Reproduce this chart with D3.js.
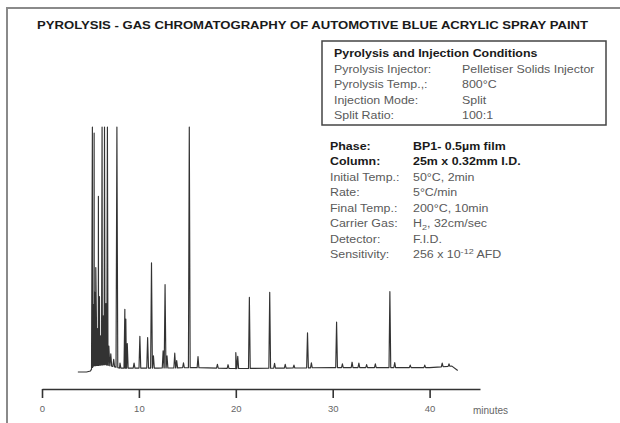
<!DOCTYPE html>
<html><head><meta charset="utf-8">
<script src="https://cdn.jsdelivr.net/npm/d3@7"></script>
<style>
body{margin:0;background:#fff}
svg{display:block}
text{font-family:"Liberation Sans",Arial,Helvetica,sans-serif}
</style>
</head><body>
<svg id="c" width="620" height="423"></svg>
<script>
// ---------- data ----------
const titleText = "PYROLYSIS - GAS CHROMATOGRAPHY OF AUTOMOTIVE BLUE ACRYLIC SPRAY PAINT";
const xTicks = [0, 10, 20, 30, 40];
const xLabel = "minutes";

// baseline (minutes, signal level)
const baseTimes  = [3.7, 4.6, 5.0, 5.3, 6.5, 8.0, 12, 16, 20, 25, 30, 35, 40, 42.3, 42.9];
const baseLevels = [0.0, 0.0, 0.4, 2.5, 3.0, 1.6, 1.6, 1.8, 1.4, 1.6, 1.8, 1.8, 1.8, 2.4, 0.6];

// peaks (retention time in minutes, height above baseline; >100 = off scale)
const peakTimes   = [5.2, 5.3, 5.38, 5.45, 5.55, 5.62, 5.72, 5.82, 5.93, 6.05, 6.2, 6.32, 6.45, 6.6, 6.75, 6.9, 7.1, 7.4, 7.73, 8.05,
                     8.55, 8.65, 8.8, 9.5, 10.1, 10.9, 11.3, 11.5, 12.5, 12.7, 12.9, 13.7, 13.9, 14.6, 15.2, 16.1,
                     18.1, 19.2, 20.0, 20.2, 21.4, 23.5, 24.0, 25.1, 26.0, 27.4, 27.8, 30.4, 31.0, 32.0, 32.7, 33.5,
                     34.4, 35.9, 36.4, 38.0, 39.5, 41.3, 42.0];
const peakHeights = [120, 25, 95, 30, 40, 18, 15, 69, 28, 12, 120, 20, 120, 25, 120, 8, 5, 3, 120, 2,
                     24, 20, 10, 2, 13, 12.5, 43, 5, 7, 34, 5, 6, 3, 2, 120, 4.5,
                     1.5, 1.5, 6.5, 5, 29, 31, 2, 1.5, 1.2, 14.3, 2, 18.6, 1.5, 2.2, 1.8, 1.2,
                     1.5, 31, 2, 1, 1, 1.5, 1];

const boxTitle  = "Pyrolysis and Injection Conditions";
const boxLabels = ["Pyrolysis Injector:", "Pyrolysis Temp.,:", "Injection Mode:", "Split Ratio:"];
const boxValues = ["Pelletiser Solids Injector", "800°C", "Split", "100:1"];

const condLabels = ["Phase:", "Column:", "Initial Temp.:", "Rate:", "Final Temp.:", "Carrier Gas:", "Detector:", "Sensitivity:"];
const condValues = ["BP1- 0.5µm film", "25m x 0.32mm I.D.", "50°C, 2min", "5°C/min", "200°C, 10min", "H_{2}, 32cm/sec", "F.I.D.", "256 x 10^{-12} AFD"];
const condBold   = [true, true, false, false, false, false, false, false];

// ---------- drawing ----------
const svg = d3.select("#c");

// frame
svg.append("path").attr("d", "M620,8H7V423").attr("fill", "none")
  .attr("stroke", "#8a8a8a").attr("stroke-width", 2);

// title
svg.append("text").attr("x", 37).attr("y", 28.5).text(titleText)
  .attr("font-size", 10.8).attr("font-weight", "bold").attr("fill", "#1a1a1a")
  .attr("textLength", 551).attr("lengthAdjust", "spacingAndGlyphs");

const x = d3.scaleLinear().domain([0, 45.2]).range([42, 480]);
const y = d3.scaleLinear().domain([0, 100]).range([372, 127]).clamp(true);
const base = d3.scaleLinear().domain(baseTimes).range(baseLevels).clamp(true);

// build trace points
const hw = 0.09;
let pts = baseTimes.map((t, i) => [t, baseLevels[i]]);
peakTimes.forEach((t, i) => {
  pts.push([t - hw, base(t - hw)]);
  pts.push([t, base(t) + peakHeights[i]]);
  pts.push([t + hw, base(t + hw)]);
});
pts.sort((a, b) => a[0] - b[0]);

svg.append("path").datum(pts)
  .attr("d", d3.line().x(d => x(d[0])).y(d => y(d[1])))
  .attr("fill", "none").attr("stroke", "#333").attr("stroke-width", 1.15)
  .attr("stroke-linejoin", "round");

// axis
const axis = d3.axisBottom(x).tickValues(xTicks).tickSize(9).tickSizeOuter(0).tickPadding(7);
const ag = svg.append("g").attr("transform", "translate(0,389)").call(axis);
ag.select(".domain").attr("stroke", "#333").attr("stroke-width", 1.6);
ag.selectAll(".tick line").attr("stroke", "#333").attr("stroke-width", 1.6);
ag.selectAll(".tick text").attr("font-size", 9.5).attr("fill", "#666")
  .attr("font-family", '"Liberation Sans",Arial,sans-serif');
svg.append("text").attr("x", 473).attr("y", 414).text(xLabel)
  .attr("font-size", 10).attr("fill", "#666");

// text helper (slightly wide typeface like the original)
function addText(px, py, str, bold) {
  const t = svg.append("text")
    .attr("transform", `translate(${px},${py}) scale(1.13,1)`)
    .attr("font-size", 11)
    .attr("font-weight", bold ? "bold" : "normal")
    .attr("fill", bold ? "#1a1a1a" : "#5a5a5a");
  const re = /(_\{[^}]*\}|\^\{[^}]*\})/;
  let pending = 0;
  str.split(re).forEach(part => {
    if (!part) return;
    if (part.startsWith("_{")) {
      t.append("tspan").attr("dy", pending + 3).attr("font-size", 8).text(part.slice(2, -1));
      pending = -3;
    } else if (part.startsWith("^{")) {
      t.append("tspan").attr("dy", pending - 4).attr("font-size", 8).text(part.slice(2, -1));
      pending = 4;
    } else {
      t.append("tspan").attr("dy", pending).text(part);
      pending = 0;
    }
  });
  return t;
}

// conditions box
svg.append("rect").attr("x", 322).attr("y", 41).attr("width", 284).attr("height", 84)
  .attr("fill", "none").attr("stroke", "#444").attr("stroke-width", 1.5);
addText(334, 57, boxTitle, true);
boxLabels.forEach((l, i) => {
  addText(334, 72.5 + i * 15.5, l, false);
  addText(462, 72.5 + i * 15.5, boxValues[i], false);
});

// column conditions
condLabels.forEach((l, i) => {
  const yy = 149.5 + i * 15.5;
  addText(330, yy, l, condBold[i]);
  addText(413, yy, condValues[i], condBold[i]);
});
</script>
</body></html>
